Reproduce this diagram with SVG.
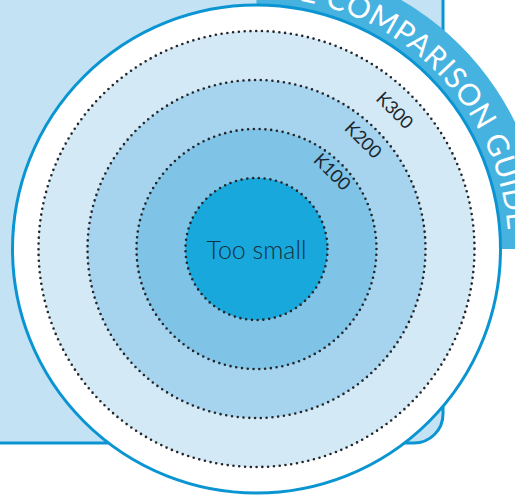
<svg xmlns="http://www.w3.org/2000/svg" width="515" height="495" viewBox="0 0 515 495">
  <style>
    .dots { fill: none; stroke: #23272b; stroke-width: 2.6; stroke-linecap: round; stroke-dasharray: 0 5.8; }
    .lbl { font-family: "Lato", "Open Sans", "Liberation Sans", sans-serif; font-size: 18px; fill: #1a252d; }
    .band { font-family: "Lato", "Open Sans", "Liberation Sans", sans-serif; font-size: 30px; fill: #ffffff; letter-spacing: 0.6px; }
    .center { font-family: "Lato", "Open Sans", "Liberation Sans", sans-serif; font-weight: 300; font-size: 25px; fill: #15303e; }
  </style>
  <defs>
    <path id="bandArc" d="M 256.5 -3 A 252 252 0 0 1 508.5 249"/>
  </defs>
  <rect width="515" height="495" fill="#ffffff"/>
  <g id="panel">
    <path d="M -5 -5 H 443 V 414 A 29 29 0 0 1 414 443 H -5 Z" fill="#c3e2f4" stroke="#0a95d2" stroke-width="3"/>
  </g>
  <g id="ribbon">
    <path d="M 256.5 -39 A 288 288 0 0 1 544.5 249 L 500.5 249 A 244 244 0 0 0 256.5 5 Z" fill="#45b2df"/>
  </g>
  <g id="outer-circle">
    <circle cx="256.5" cy="249" r="244" fill="#ffffff" stroke="#0a95d2" stroke-width="3"/>
  </g>
  <g id="ribbon-text">
    <text class="band"><textPath href="#bandArc" startOffset="210" text-anchor="middle">E COMPARISON GUIDE</textPath></text>
  </g>
  <g id="ring-k300">
    <circle cx="256.5" cy="249" r="218" fill="#d3e9f6"/>
    <circle cx="256.5" cy="249" r="218" class="dots"/>
  </g>
  <g id="ring-k200">
    <circle cx="256.5" cy="249" r="169" fill="#a6d4ee"/>
    <circle cx="256.5" cy="249" r="169" class="dots"/>
  </g>
  <g id="ring-k100">
    <circle cx="256.5" cy="249" r="120" fill="#7fc3e6"/>
    <circle cx="256.5" cy="249" r="120" class="dots"/>
  </g>
  <g id="too-small">
    <circle cx="256.5" cy="249" r="71" fill="#18a8dc"/>
    <circle cx="256.5" cy="249" r="71" class="dots"/>
    <text class="center" x="256.5" y="259" text-anchor="middle">Too small</text>
  </g>
  <g id="labels">
    <text class="lbl" text-anchor="middle" transform="translate(394.5 110.5) rotate(45)" y="6">K300</text>
    <text class="lbl" text-anchor="middle" transform="translate(363 140) rotate(45)" y="6">K200</text>
    <text class="lbl" text-anchor="middle" transform="translate(332 172) rotate(45)" y="6">K100</text>
  </g>
</svg>
